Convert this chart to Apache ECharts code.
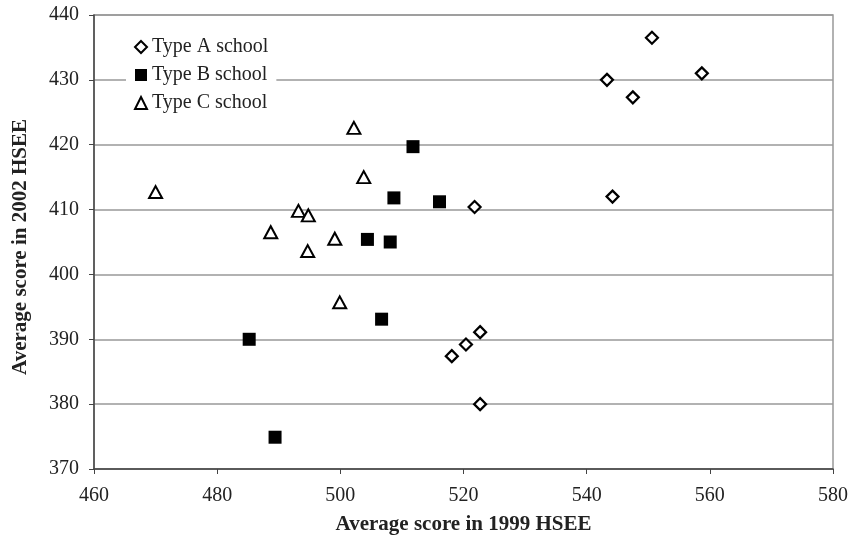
<!DOCTYPE html>
<html><head><meta charset="utf-8">
<script src="https://cdn.jsdelivr.net/npm/echarts@6/dist/echarts.min.js"></script>
<style>html,body{margin:0;padding:0;background:#fff}#c{width:851px;height:542px}</style>
</head><body><div id="c"></div>
<script>
const typeA = [[550.6,436.5],[543.3,430.0],[547.5,427.3],[558.7,431.0],[544.2,412.0],[521.8,410.4],[522.7,391.1],[520.4,389.2],[518.1,387.4],[522.7,380.0]];
const typeB = [[511.8,419.7],[508.7,411.8],[516.1,411.2],[504.4,405.4],[508.1,405.0],[506.7,393.1],[485.2,390.0],[489.4,374.9]];
const typeC = [[470.0,412.7],[502.2,422.6],[503.8,415.0],[493.2,409.8],[494.8,409.1],[488.7,406.5],[499.1,405.5],[494.7,403.6],[499.9,395.7]];
const seriesNames = ['Type A school','Type B school','Type C school'];
const xTitle = 'Average score in 1999 HSEE';
const yTitle = 'Average score in 2002 HSEE';
const font = 'Liberation Serif, Times New Roman, serif';
const chart = echarts.init(document.getElementById('c'));
chart.setOption({
  animation:false,
  backgroundColor:'#fff',
  textStyle:{fontFamily:font},
  grid:{left:94,right:15,top:15,bottom:73,show:true,borderColor:'#999',borderWidth:1.5},
  legend:{
    orient:'vertical',left:126,top:33,itemGap:8,itemWidth:12,itemHeight:12,
    backgroundColor:'#fff',padding:[4,8,4,8],
    textStyle:{fontFamily:font,fontSize:20,color:'#222'},
    data:seriesNames
  },
  xAxis:{
    type:'value',min:460,max:580,interval:20,
    name:xTitle,nameLocation:'middle',nameGap:45,
    nameTextStyle:{fontFamily:font,fontSize:21,fontWeight:'bold',color:'#222'},
    axisLine:{show:true,lineStyle:{color:'#444',width:1.5}},
    axisTick:{show:true,length:5,lineStyle:{color:'#444'}},
    axisLabel:{fontFamily:font,fontSize:20,color:'#222',margin:17},
    splitLine:{show:false}
  },
  yAxis:{
    type:'value',min:370,max:440,interval:10,
    name:yTitle,nameLocation:'middle',nameGap:63,
    nameTextStyle:{fontFamily:font,fontSize:21,fontWeight:'bold',color:'#222',padding:[0,10,0,0]},
    axisLine:{show:true,lineStyle:{color:'#444',width:1.5}},
    axisTick:{show:true,length:5,lineStyle:{color:'#444'}},
    axisLabel:{fontFamily:font,fontSize:20,color:'#222',margin:15},
    splitLine:{show:true,lineStyle:{color:'#999',width:1.5}}
  },
  series:[
    {name:seriesNames[0],type:'scatter',data:typeA,symbol:'diamond',symbolSize:[12,12],
     itemStyle:{color:'#fff',borderColor:'#000',borderWidth:2.2,opacity:1}},
    {name:seriesNames[1],type:'scatter',data:typeB,symbol:'rect',symbolSize:13,
     itemStyle:{color:'#000',opacity:1}},
    {name:seriesNames[2],type:'scatter',data:typeC,symbol:'triangle',symbolSize:[13,12],
     itemStyle:{color:'#fff',borderColor:'#000',borderWidth:2,opacity:1}}
  ]
});
</script></body></html>
